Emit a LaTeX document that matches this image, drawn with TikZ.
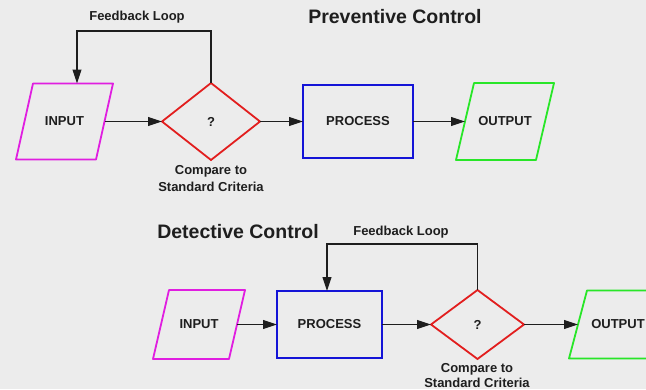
\documentclass[tikz,border=0pt]{standalone}
\usepackage{fontspec}
\setmainfont{Liberation Sans}
\usetikzlibrary{shapes.geometric,arrows.meta,calc}
\definecolor{bgc}{RGB}{236,236,236}
\definecolor{inkc}{RGB}{30,30,30}
\definecolor{magc}{RGB}{224,30,224}
\definecolor{redc}{RGB}{226,30,30}
\definecolor{bluc}{RGB}{20,20,215}
\definecolor{grnc}{RGB}{40,230,40}
\tikzset{
  lbl/.style={font=\bfseries\fontsize{13}{15}\selectfont, text=inkc, inner sep=0pt},
  ttl/.style={font=\bfseries\fontsize{19.5}{22}\selectfont, text=inkc, inner sep=0pt},
  iobox/.style={lbl, minimum width=#1, minimum height=76pt, outer sep=0pt},
  procbox/.style={lbl, draw=bluc, line width=1.8pt, outer sep=0pt},
  decide/.style={lbl, diamond, draw=redc, line width=1.8pt, inner sep=0pt, outer sep=0pt},
  arr/.style={draw=inkc, line width=1.1pt, -{Triangle[length=14pt,width=9pt]}},
}
% slanted input/output outline drawn around a named node
\newcommand\slantbox[3]{%
  \draw[#2, line width=1.8pt, line join=round]
    ($(#1.north west)+(#3,0)$) -- ($(#1.north east)+(#3,0)$) --
    ($(#1.south east)+(-#3,0)$) -- ($(#1.south west)+(-#3,0)$) -- cycle;}
\begin{document}
\begin{tikzpicture}[x=1pt,y=-1pt]
\fill[bgc] (0,0) rectangle (646,389);
\useasboundingbox (0,0) rectangle (646,389);

% ---- Preventive control ----
\node[ttl] (t1) at (395,17) {Preventive Control};
\node[iobox=80pt] (in1) at (64.5,121.5) {INPUT};
\slantbox{in1}{magc}{8.5}
\node[decide, minimum width=98pt, minimum height=77pt] (d1) at (211,121.5) {?};
\node[procbox, minimum width=110pt, minimum height=73pt] (p1) at (358,121.5) {PROCESS};
\node[iobox=80pt, minimum height=77pt] (o1) at (505,121.5) {OUTPUT};
\slantbox{o1}{grnc}{9}
\node[lbl, align=center] (c1) at (211,179) {Compare to\\[2pt]Standard Criteria};
\node[lbl] (f1) at (137,17) {Feedback Loop};

\draw[arr] (in1.east) -- (d1.west);
\draw[arr] (d1.east) -- (p1.west);
\draw[arr] (p1.east) -- (o1.west);
\coordinate (fb1) at (77,31);
\draw[arr] (d1.north) |- (fb1) -- (fb1 |- in1.north);

% ---- Detective control ----
\node[ttl] (t2) at (238,232) {Detective Control};
\node[iobox=76pt, minimum height=69pt] (in2) at (199,324.5) {INPUT};
\slantbox{in2}{magc}{8}
\node[procbox, minimum width=105pt, minimum height=67pt] (p2) at (329.5,324.5) {PROCESS};
\node[decide, minimum width=93pt, minimum height=69pt] (d2) at (477.5,324.5) {?};
\node[iobox=80pt, minimum height=68pt] (o2) at (618,324.5) {OUTPUT};
\slantbox{o2}{grnc}{9}
\node[lbl, align=center] (c2) at (477,375.5) {Compare to\\[0pt]Standard Criteria};
\node[lbl] (f2) at (401,232) {Feedback Loop};

\draw[arr] (in2.east) -- (p2.west);
\draw[arr] (p2.east) -- (d2.west);
\draw[arr] (d2.east) -- (o2.west);
\coordinate (fb2) at (327,244);
\draw[arr] (d2.north) |- (fb2) -- (fb2 |- p2.north);
\end{tikzpicture}
\end{document}
